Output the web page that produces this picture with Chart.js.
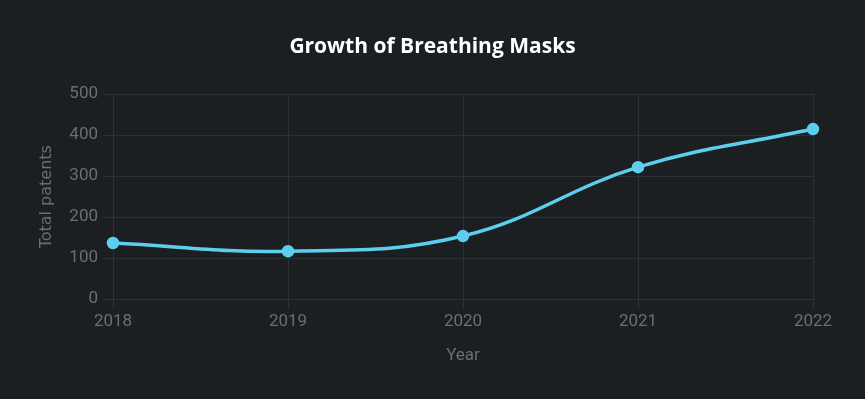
<!DOCTYPE html>
<html>
<head>
<meta charset="utf-8">
<script src="https://cdn.jsdelivr.net/npm/chart.js@4"></script>
<style>
  html, body { margin: 0; padding: 0; background: #1b1f22; }
  #wrap { width: 865px; height: 399px; }
</style>
</head>
<body>
<div id="wrap"><canvas id="lineChart"></canvas></div>
<script>
const years = ['2018', '2019', '2020', '2021', '2022'];
const patents = [137, 117, 154, 322, 415];
const yTicks = [0, 100, 200, 300, 400, 500];

const ctx1 = document.getElementById('lineChart');
const gridColor = '#2d3135';
const tickColor = '#6c6f72';

const chart = new Chart(ctx1, {
    type: 'line',
    data: {
        labels: years,
        datasets: [{
            label: 'Total patents',
            data: patents,
            borderColor: '#5ccfee',
            backgroundColor: '#5ccfee',
            borderWidth: 3.5,
            pointRadius: 4.5,
            pointHoverRadius: 6,
            tension: 0.4,
            fill: false
        }]
    },
    options: {
        responsive: true,
        maintainAspectRatio: false,
        animation: false,
        layout: {
            padding: {
                left: 33,
                right: 33,
                top: 28,
                bottom: 29
            }
        },
        plugins: {
            legend: { display: false },
            title: {
                display: true,
                text: 'Growth of Breathing Masks',
                color: '#ffffff',
                font: { family: 'Open Sans', size: 21, weight: 'bold' },
                padding: { top: 6, bottom: 35 }
            }
        },
        scales: {
            x: {
                grid: { color: gridColor, tickLength: 10 },
                border: { display: false },
                ticks: {
                    color: tickColor,
                    font: { family: 'Roboto', size: 17 },
                    padding: 2
                },
                title: {
                    display: true,
                    text: 'Year',
                    color: tickColor,
                    font: { family: 'Roboto', size: 17 },
                    padding: { top: 12 }
                }
            },
            y: {
                min: 0,
                max: 500,
                afterBuildTicks: (axis) => {
                    axis.ticks = yTicks.map(v => ({ value: v }));
                },
                afterFit: (axis) => { axis.width = 80; },
                grid: { color: gridColor, tickLength: 10 },
                border: { display: false },
                ticks: {
                    color: tickColor,
                    font: { family: 'Roboto', size: 17 },
                    padding: 5
                },
                title: {
                    display: true,
                    text: 'Total patents',
                    color: tickColor,
                    font: { family: 'DejaVu Sans', size: 16 },
                    padding: { bottom: 14 }
                }
            },
            // empty spacer on the right so the title stays centred on the page
            spacer: {
                type: 'linear',
                position: 'right',
                afterFit: (axis) => { axis.width = 19; },
                grid: { display: false },
                border: { display: false },
                ticks: { display: false }
            }
        }
    }
});
</script>
</body>
</html>
